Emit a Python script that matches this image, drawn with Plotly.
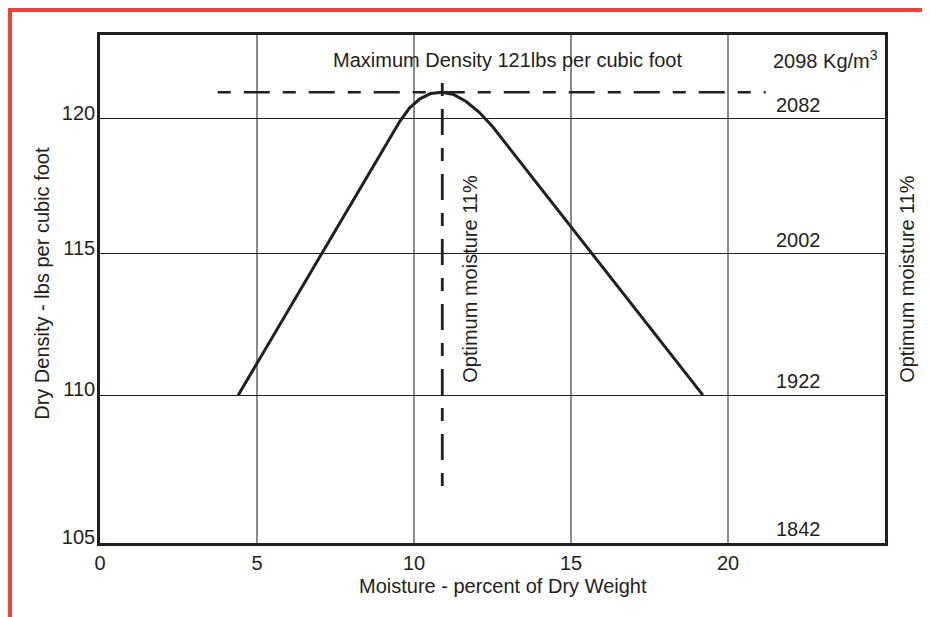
import math
import plotly.graph_objects as go

# ---- data ----
moisture = [4.4, 9.55, 9.86, 10.19, 10.53, 10.89, 11.27, 11.66, 12.07, 12.5, 19.2]
dry_density = [110, 119.9, 120.41, 120.75, 120.95, 121.0, 120.91, 120.65, 120.25, 119.7, 110]

max_density = 121
max_line_x = [3.75, 21.2]
optimum_moisture = 10.9
opt_line_y = [106.9, 121.5]

x_ticks = [0, 5, 10, 15, 20]
y_ticks = [105, 110, 115, 120]
kg_labels = ["1842", "1922", "2002", "2082"]

FONT = "Liberation Sans, Arial, Helvetica, sans-serif"
INK = "#231f20"
FS = 20

# page has an 8px body margin; plot area placed at page (100,35)-(885,543)
W, H = 930, 617
ML, MT = 92, 27
PW, PH = 785, 508
MR = W - ML - PW
MB = H - MT - PH

fig = go.Figure()

fig.add_trace(go.Scatter(x=moisture, y=dry_density, mode="lines",
                         line=dict(color=INK, width=3), showlegend=False, hoverinfo="skip"))
fig.add_trace(go.Scatter(x=max_line_x, y=[max_density, max_density], mode="lines",
                         line=dict(color=INK, width=2.5, dash="13px,13px,26px,13px"),
                         showlegend=False, hoverinfo="skip"))
fig.add_trace(go.Scatter(x=[optimum_moisture, optimum_moisture], y=opt_line_y, mode="lines",
                         line=dict(color=INK, width=2.8, dash="13px,13px,26px,13px"),
                         showlegend=False, hoverinfo="skip"))

def ann(**kw):
    d = dict(showarrow=False, xanchor="center", yanchor="middle", font=dict(size=FS))
    d.update(kw)
    return d

annotations = [
    ann(text="Maximum Density 121lbs per cubic foot", x=12.97, y=0.951, xref="x", yref="paper"),
    ann(text="2098 Kg/m<sup>3</sup>", x=23.1, y=0.951, xref="x", yref="paper"),
]
for yv, lab in zip(y_ticks, kg_labels):
    annotations.append(ann(text=lab, x=22.23, y=math.log10(yv), xref="x", yref="y",
                           yanchor="bottom", yshift=1))
annotations += [
    ann(text="Optimum moisture 11%", x=11.78, y=0.52, xref="x", yref="paper", textangle=-90),
    ann(text="Optimum moisture 11%", x=1.028, y=0.52, xref="paper", yref="paper", textangle=-90),
    ann(text="Dry Density - lbs per cubic foot", x=-0.074, y=0.512, xref="paper", yref="paper",
        textangle=-90),
    ann(text="Moisture - percent of Dry Weight", x=0.513, y=-0.085, xref="paper", yref="paper"),
]

red = "#ef4136"
def px_x(fx):
    return (fx - ML) / PW
def px_y(fy):
    return (MT + PH - fy) / PH

shapes = [
    dict(type="line", xref="paper", yref="paper", x0=px_x(1.5), x1=px_x(1.5),
         y0=px_y(-3), y1=px_y(H + 5), line=dict(color=red, width=5)),
    dict(type="line", xref="paper", yref="paper", x0=px_x(-1), x1=px_x(W + 5),
         y0=px_y(1.5), y1=px_y(1.5), line=dict(color=red, width=5)),
]

fig.update_layout(
    width=W, height=H,
    margin=dict(l=ML, r=MR, t=MT, b=MB),
    paper_bgcolor="white", plot_bgcolor="white",
    font=dict(family=FONT, size=FS, color=INK),
    annotations=annotations, shapes=shapes,
)
fig.update_xaxes(range=[0, 25], tickvals=x_ticks, showgrid=True, gridcolor="#8c8c8c",
                 gridwidth=1.5, zeroline=False, showline=True, linecolor=INK, linewidth=2.7,
                 mirror=True, ticks="", tickfont=dict(size=FS))
fig.update_yaxes(type="log", range=[math.log10(105), math.log10(123.2)], tickvals=y_ticks,
                 ticktext=[str(v) for v in y_ticks],
                 showgrid=True, gridcolor=INK,
                 gridwidth=1.2, zeroline=False, showline=True, linecolor=INK, linewidth=2.7,
                 mirror=True, ticks="", tickfont=dict(size=FS), ticklabelshift=-6,
                 ticklabelstandoff=-2)

fig.write_html("out.html")
